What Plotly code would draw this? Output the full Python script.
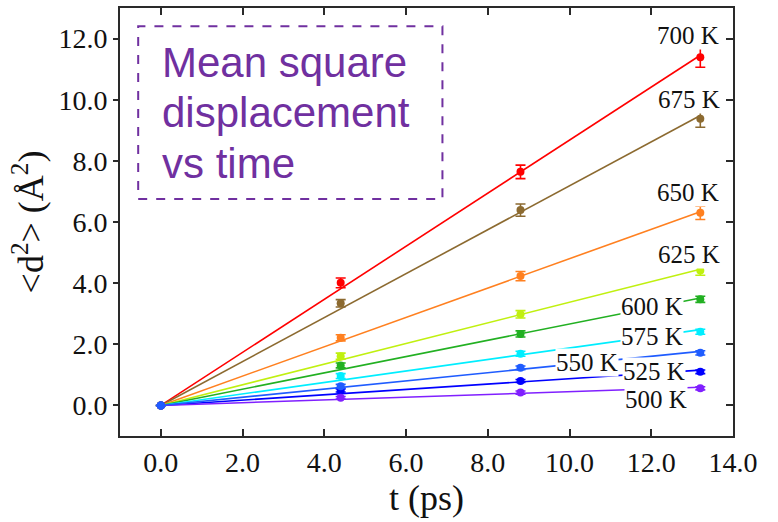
import numpy as np
import plotly.graph_objects as go

# ---- data ----
t_ps = [0.0, 4.4, 8.8, 13.2]
temps = ["700 K", "675 K", "650 K", "625 K", "600 K", "575 K", "525 K", "500 K", "550 K"]
msd_700 = [0.0, 4.01, 7.64, 11.39]
msd_675 = [0.0, 3.34, 6.39, 9.38]
msd_650 = [0.0, 2.21, 4.23, 6.30]
msd_625 = [0.0, 1.61, 2.98, 4.41]
msd_600 = [0.0, 1.31, 2.34, 3.47]
msd_575 = [0.0, 0.96, 1.69, 2.41]
msd_550 = [0.0, 0.63, 1.23, 1.72]
msd_525 = [0.0, 0.49, 0.80, 1.10]
msd_500 = [0.0, 0.25, 0.42, 0.56]
err_700 = [0.0, 0.16, 0.22, 0.33]
err_675 = [0.0, 0.12, 0.20, 0.28]
err_650 = [0.0, 0.10, 0.15, 0.22]
err_625 = [0.0, 0.10, 0.12, 0.15]
err_600 = [0.0, 0.08, 0.10, 0.10]
err_575 = [0.0, 0.08, 0.08, 0.08]
err_550 = [0.0, 0.06, 0.06, 0.07]
err_525 = [0.0, 0.05, 0.05, 0.06]
err_500 = [0.0, 0.04, 0.05, 0.05]
x_ticks = [0, 2, 4, 6, 8, 10, 12, 14]
y_ticks = [0, 2, 4, 6, 8, 10, 12]
box_lines = ["Mean square", "displacement", "vs time"]

series = {
    "700 K": (msd_700, err_700, "#ff0000"),
    "675 K": (msd_675, err_675, "#8c6a30"),
    "650 K": (msd_650, err_650, "#ff8020"),
    "625 K": (msd_625, err_625, "#c0f010"),
    "600 K": (msd_600, err_600, "#22b022"),
    "575 K": (msd_575, err_575, "#00eeff"),
    "525 K": (msd_525, err_525, "#0000ff"),
    "500 K": (msd_500, err_500, "#8020ff"),
    "550 K": (msd_550, err_550, "#1f5cff"),
}

# label placement (text positions, right-anchored)
label_pos = {
    "700 K": (13.69, 12.10),
    "675 K": (13.71, 10.01),
    "650 K": (13.69, 6.97),
    "625 K": (13.71, 4.95),
    "600 K": (12.81, 3.25),
    "575 K": (12.81, 2.27),
    "550 K": (11.21, 1.42),
    "525 K": (12.84, 1.12),
    "500 K": (12.91, 0.18),
}

fig = go.Figure()
tx = np.array(t_ps)

# linear fits through origin
for name in temps:
    y, e, c = series[name]
    y = np.array(y)
    slope = np.sum(tx * y) / np.sum(tx * tx)
    fit_x = np.array([tx[0], tx[-1]])
    fig.add_trace(go.Scatter(x=fit_x, y=slope * fit_x, mode="lines",
                             line=dict(color=c, width=1.6), showlegend=False,
                             hoverinfo="skip"))

for name in temps:
    y, e, c = series[name]
    fig.add_trace(go.Scatter(x=t_ps, y=y, mode="markers", name=name,
                             marker=dict(color=c, size=8),
                             error_y=dict(type="data", array=e, color=c,
                                          thickness=1.6, width=5, visible=True),
                             showlegend=False))

# dummy trace for the right axis
fig.add_trace(go.Scatter(x=[None], y=[None], yaxis="y2", showlegend=False,
                         hoverinfo="skip"))

serif = "Liberation Serif, Times New Roman, serif"
for name in temps:
    lx, ly = label_pos[name]
    fig.add_annotation(x=lx, y=ly, text=name, showarrow=False, xanchor="right",
                       yanchor="middle", font=dict(family=serif, size=25, color="#111"),
                       bgcolor="white", borderpad=0)

# text box
fig.add_shape(type="rect", x0=-0.555, x1=6.89, y0=6.75, y1=12.40,
              line=dict(color="#7030a0", width=2, dash="dash"), fillcolor="white",
              layer="above")
box_y = [10.39, 8.76, 7.08]
for txt, by in zip(box_lines, box_y):
    fig.add_annotation(x=-0.03, y=by, xref="x", yref="y", showarrow=False,
                       text=txt, align="left", xanchor="left", yanchor="bottom",
                       font=dict(family="Liberation Sans, Arial, sans-serif", size=42,
                                 color="#7030a0"))

axis_col = "#2a2a2a"
fig.update_layout(
    width=778, height=522,
    margin=dict(l=120, r=45, t=6, b=86),
    plot_bgcolor="white", paper_bgcolor="white",
    font=dict(family=serif, color="#111"),
    xaxis=dict(range=[-1, 14], tickvals=x_ticks, tickformat=".1f",
               ticks="inside", ticklen=7, tickwidth=1.5, tickcolor=axis_col,
               showline=True, linecolor=axis_col, linewidth=2, mirror="ticks",
               showgrid=False, zeroline=False,
               tickfont=dict(family=serif, size=28, color="#111"),
               title=dict(text="t (ps)", font=dict(family=serif, size=36, color="#111"),
                          standoff=4)),
    yaxis=dict(range=[-1, 13], tickvals=y_ticks, tickformat=".1f",
               ticks="outside", ticklen=5, tickwidth=1.5, tickcolor=axis_col,
               showline=True, linecolor=axis_col, linewidth=2, mirror=True,
               showgrid=False, zeroline=False,
               tickfont=dict(family=serif, size=28, color="#111"),
               title=dict(text="&lt;d<sup>2</sup>&gt; (Å<sup>2</sup>)",
                          font=dict(family=serif, size=36, color="#111"),
                          standoff=4)),
    yaxis2=dict(range=[-1, 13], tickvals=y_ticks, overlaying="y", side="right",
                ticks="inside", ticklen=7, tickwidth=1.5, tickcolor=axis_col,
                showticklabels=False, showline=False, showgrid=False,
                zeroline=False),
)

fig.write_html("out.html", config={"displayModeBar": False},
               post_script="document.body.style.margin='0px';")
